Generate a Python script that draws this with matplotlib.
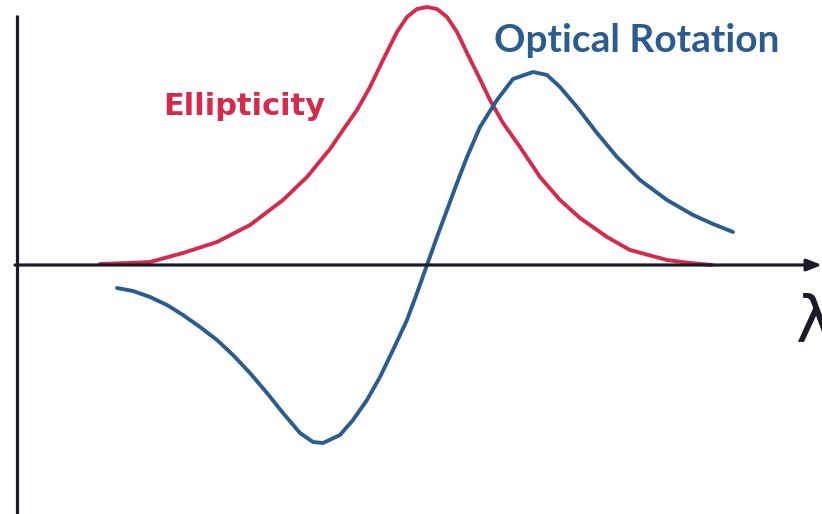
import matplotlib.pyplot as plt

# curve samples (x = wavelength position, y = signal, 0 on the axis)
ell_x = [100, 130, 150, 183, 217, 250, 283, 307, 330, 343, 357, 370, 383, 397, 407, 417,
         427, 437, 447, 457, 467, 477, 490, 503, 520, 540, 560, 580, 607, 630, 667, 690, 712]
ell_y = [1, 2, 3, 12, 23, 40, 65, 88, 116, 135, 155, 178, 205, 233, 248, 256,
         258, 256, 248, 233, 212, 192, 165, 142, 118, 88, 65, 47, 28, 15, 5, 2, 0]

rot_x = [117, 133, 150, 167, 183, 200, 217, 233, 250, 267, 283, 300, 313, 323, 340, 353,
         367, 380, 393, 407, 417, 427, 437, 447, 457, 467, 480, 497, 513, 533, 547, 560,
         577, 597, 617, 640, 667, 693, 713, 733]
rot_y = [-23, -26, -32, -40, -50, -62, -75, -90, -108, -128, -148, -168, -177, -178, -170, -155,
         -135, -112, -85, -55, -28, 0, 28, 55, 82, 108, 138, 165, 186, 193, 190, 178,
         158, 132, 108, 85, 65, 50, 41, 33]

red = '#d42a4c'
blue = '#2b5c8e'
ink = '#1b1b26'

fig = plt.figure(figsize=(8.22, 5.14), dpi=100)
ax = fig.add_axes([0, 0, 1, 1])
ax.set_xlim(0, 822)
ax.set_ylim(-249, 265)
ax.axis('off')

# axes drawn by hand: vertical line and horizontal arrow
ax.plot([17, 17], [-249, 250], color=ink, lw=2.3, solid_capstyle='butt')
ax.annotate('', xy=(822, 0), xytext=(15, 0),
            arrowprops=dict(arrowstyle='-|>,head_length=0.9,head_width=0.35',
                            color=ink, lw=2.3, shrinkA=0, shrinkB=0))

ax.plot(ell_x, ell_y, color=red, lw=2.8, solid_capstyle='round', solid_joinstyle='round')
ax.plot(rot_x, rot_y, color=blue, lw=2.8, solid_capstyle='round', solid_joinstyle='round')

ax.text(163, 150, 'Ellipticity', color=red, fontsize=22, fontweight='bold',
        family='DejaVu Sans', va='baseline', ha='left')
ax.text(494, 213, 'Optical Rotation', color=blue, fontsize=28, fontweight='bold',
        family='Lato', va='baseline', ha='left')
ax.text(795, -58, 'λ', color=ink, fontsize=46, va='center', ha='left')

fig.savefig('out.png', dpi=100)
